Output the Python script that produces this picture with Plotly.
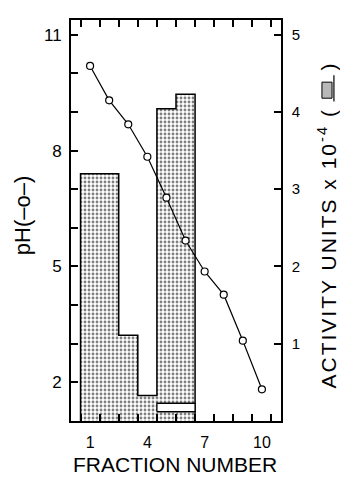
import plotly.graph_objects as go

# ---- data ----
fractions = [1, 2, 3, 4, 5, 6, 7, 8, 9, 10]
ph_values = [10.19, 9.30, 8.68, 7.84, 6.78, 5.67, 4.87, 4.27, 3.08, 1.82]

activity_fractions = [1, 2, 3, 4, 5, 6]
activity_values = [3.20, 3.20, 1.11, 0.33, 4.04, 4.23]   # x 10^-4 units

box_fractions = [5, 6]          # open (white) box at bottom of fractions 5-6
box_low, box_high = 0.12, 0.23

x_tick_labels = [1, 4, 7, 10]
ph_label_values = [2, 5, 8, 11]
ph_minor_values = [3, 4, 6, 7, 9, 10]
act_tick_values = [1, 2, 3, 4, 5]

FONT = "Liberation Sans, Arial, sans-serif"

# step outline of the activity histogram (bins are fraction +- 0.5)
edges = [f - 0.5 for f in activity_fractions] + [activity_fractions[-1] + 0.5]
step_x = [edges[0]] + edges + [edges[-1]]
step_y = [0] + activity_values + [activity_values[-1], 0]

# white box rectangle
bx0, bx1 = box_fractions[0] - 0.5, box_fractions[-1] + 0.5
box_x = [bx0, bx1, bx1, bx0, bx0]
box_y = [box_low, box_low, box_high, box_high, box_low]

bin_edges = [f - 0.5 for f in fractions] + [fractions[-1] + 0.5]

fig = go.Figure()

fig.add_trace(go.Scatter(
    x=step_x, y=step_y, mode="lines", line=dict(color="black", width=1.5, shape="hv"),
    fill="toself", fillcolor="white",
    fillpattern=dict(shape=".", fgcolor="black", bgcolor="white", size=4, solidity=0.4),
    xaxis="x", yaxis="y", showlegend=False, hoverinfo="skip"))

fig.add_trace(go.Scatter(
    x=box_x, y=box_y, mode="lines", line=dict(color="black", width=1.3),
    fill="toself", fillcolor="white", xaxis="x", yaxis="y", showlegend=False))

fig.add_trace(go.Scatter(
    x=fractions, y=ph_values, mode="lines+markers",
    line=dict(color="black", width=1.2),
    marker=dict(symbol="circle", size=7, color="white", line=dict(color="black", width=1.2)),
    xaxis="x", yaxis="y2", showlegend=False))

tick_style = dict(ticks="inside", ticklen=7, tickwidth=1.6, tickcolor="black")
line_style = dict(showline=True, linecolor="black", linewidth=1.5, showgrid=False, zeroline=False)

fig.update_layout(
    width=340, height=477,
    margin=dict(l=71, r=59, t=13, b=56),
    paper_bgcolor="white", plot_bgcolor="white",
    font=dict(family=FONT, color="black", size=16),
    xaxis=dict(range=[0, 11], tickvals=x_tick_labels, ticktext=[str(v) for v in x_tick_labels],
               # invisible major ticks only push the labels down a little
               ticks="outside", ticklen=6, tickcolor="rgba(0,0,0,0)",
               mirror="ticks", tickfont=dict(size=16),
               minor=dict(tickvals=bin_edges, showgrid=False, **tick_style),
               **line_style),
    yaxis=dict(range=[0, 5.19], side="right",
               tickvals=act_tick_values, ticktext=[str(v) for v in act_tick_values],
               ticklabelstandoff=6, tickfont=dict(size=15), **tick_style, **line_style),
    yaxis2=dict(range=[1, 11.38], side="left", overlaying="y", anchor="x",
                tickvals=ph_label_values,
                ticktext=[str(v) + "\u2005" for v in ph_label_values],
                tickfont=dict(size=17),
                minor=dict(tickvals=ph_minor_values, showgrid=False, **tick_style),
                **tick_style, **line_style),
    annotations=[
        dict(text="FRACTION NUMBER", xref="paper", yref="paper", x=0.495, y=-0.108,
             showarrow=False, font=dict(size=21), xanchor="center", yanchor="middle"),
        dict(text="pH(–o–)", xref="paper", yref="paper", x=-0.233, y=0.511,
             textangle=-90, showarrow=False, font=dict(size=22),
             xanchor="center", yanchor="middle"),
        dict(text="<span style='letter-spacing:2px'>ACTIVITY UNITS x 10<sup>-4</sup> (\u2002\u2002\u2002)</span>",
             xref="paper", yref="paper",
             x=1.219, y=0.49, textangle=-90, showarrow=False, font=dict(size=21),
             xanchor="center", yanchor="middle"),
    ],
    shapes=[
        # legend key for the stippled histogram inside the right axis title
        dict(type="rect", xref="paper", yref="paper", x0=1.195, x1=1.243, y0=0.805, y1=0.845,
             line=dict(color="black", width=1), fillcolor="#b8b8b8"),
        dict(type="line", xref="paper", yref="paper", x0=1.252, x1=1.252, y0=0.797, y1=0.862,
             line=dict(color="black", width=1.2)),
    ],
)

fig.write_html("out.html")
